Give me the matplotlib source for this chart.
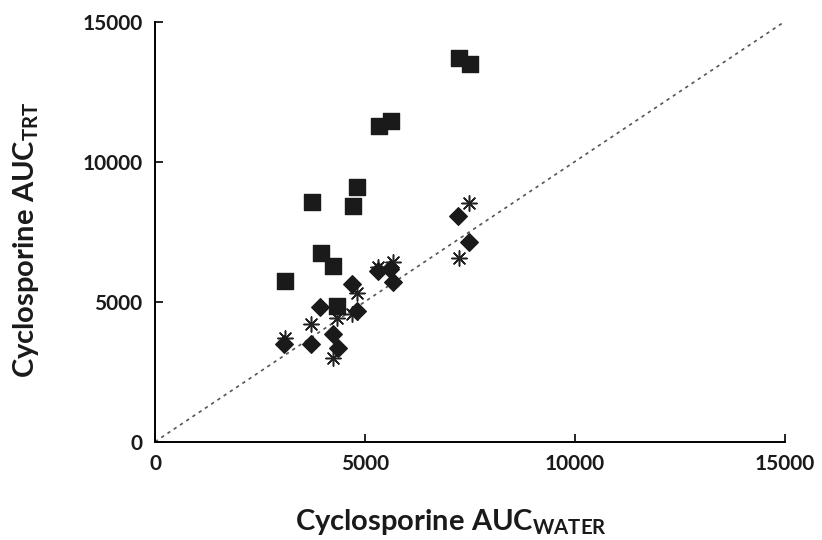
import numpy as np
import matplotlib
matplotlib.use("Agg")
import matplotlib.pyplot as plt

plt.rcParams['font.family'] = ['Lato', 'DejaVu Sans']
plt.rcParams['font.weight'] = 'bold'
plt.rcParams['mathtext.fontset'] = 'custom'
plt.rcParams['mathtext.rm'] = 'Lato:bold'
plt.rcParams['mathtext.it'] = 'Lato:bold'
plt.rcParams['mathtext.bf'] = 'Lato:bold'

# squares
sq_water = [7245, 7500, 5341, 5612, 4817, 3738, 4707, 3945, 4230, 3095, 4326]
sq_trt = [13693, 13479, 11286, 11454, 9107, 8571, 8429, 6750, 6275, 5750, 4857]

# diamonds
dm_water = [7214, 7484, 5317, 5595, 5674, 4690, 3929, 4802, 3079, 3714, 4230, 4349]
dm_trt = [8071, 7121, 6086, 6168, 5693, 5632, 4800, 4668, 3489, 3489, 3846, 3336]

# asterisks
as_water = [7484, 7230, 5317, 5659, 4817, 4683, 3707, 4230, 3095, 4326]
as_trt = [8514, 6550, 6229, 6429, 5300, 4561, 4204, 2979, 3693, 4407]

ticks = [0, 5000, 10000, 15000]

fig = plt.figure(figsize=(8.22, 5.4), dpi=100)
ax = fig.add_axes([0.1886, 0.182, 0.766, 0.778])

ax.plot([0, 15000], [0, 15000], color='#555555', linestyle=(0, (2, 2.5)), linewidth=1.2, zorder=1)
ax.scatter(as_water, as_trt, marker=(8, 2, 0), s=120, color='#222222', linewidths=1.1, zorder=2)
ax.scatter(dm_water, dm_trt, marker='D', s=80, color='#1a1a1a', zorder=3)
ax.scatter(sq_water, sq_trt, marker='s', s=120, color='#1a1a1a', zorder=4)

ax.set_xlim(0, 15000)
ax.set_ylim(0, 15000)
ax.set_xticks(ticks)
ax.set_yticks(ticks)
ax.tick_params(direction='in', length=6, width=1.2, labelsize=15, pad=9, labelcolor='#1a1a1a')
for s in ['top', 'right']:
    ax.spines[s].set_visible(False)
for s in ['left', 'bottom']:
    ax.spines[s].set_linewidth(1.4)

ax.set_xlabel(r'Cyclosporine AUC$_{\mathrm{WATER}}$', fontsize=21, fontweight='bold',
              color='#1a1a1a')
ax.set_ylabel(r'Cyclosporine AUC$_{\mathrm{TRT}}$', fontsize=21, fontweight='bold',
              color='#1a1a1a')
ax.xaxis.set_label_coords(0.47, -0.155)
ax.yaxis.set_label_coords(-0.181, 0.48)

fig.savefig('out.png', dpi=100)
